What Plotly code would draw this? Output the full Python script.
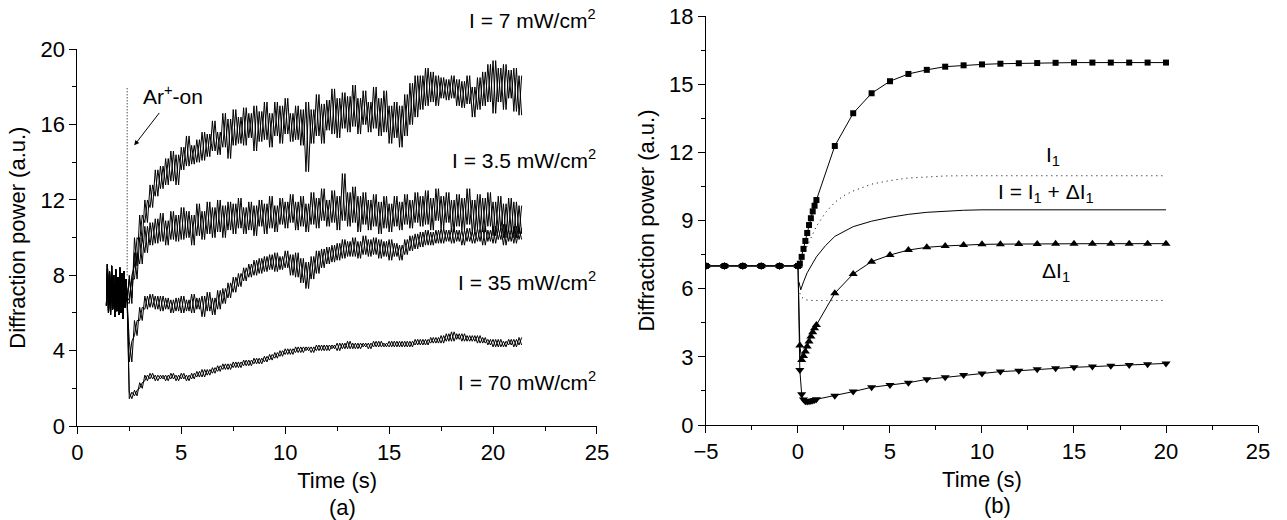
import plotly.graph_objects as go

FONT = "Liberation Sans, Arial, Helvetica, sans-serif"
FS = 22
FS_LABEL = 21

# ---------------- panel (a): measured traces ----------------
# shared segment before the Ar+ beam is switched on (alternating low/high samples)
PRE_T = [1.40, 1.45, 1.50, 1.55, 1.60, 1.65, 1.70, 1.75, 1.80, 1.85, 1.90,
         1.95, 2.00, 2.05, 2.10, 2.15, 2.20, 2.25, 2.30, 2.35, 2.40]
PRE_Y = [6.4, 8.6, 6.0, 8.2, 5.9, 8.5, 6.2, 8.0, 5.8, 8.3, 6.1,
         7.9, 5.9, 8.4, 6.0, 8.1, 5.7, 8.2, 6.3, 7.8, 6.6]

# after switch-on: sample times every 0.25 s from 2.5 s to 21.25 s
POST_STEP = 0.25
POST_T = [2.5 + POST_STEP * i for i in range(76)]

# I = 7 mW/cm2 : lower / upper edge of the noisy band
I7_LO = [6.5, 8.5, 9.8, 10.8,
         11.6, 12.2, 12.6, 12.8,
         13.0, 12.8, 13.6, 13.8,
         13.9, 14.0, 14.1, 14.3,
         14.6, 14.4, 14.8, 14.2,
         14.9, 15.0, 14.9, 15.3,
         14.6, 15.1, 15.2, 14.8,
         15.4, 15.0, 15.5, 15.1,
         15.2, 14.9, 13.5, 15.0,
         15.4, 15.0, 15.7, 15.5,
         15.3, 15.8, 15.6, 15.9,
         15.5, 16.0, 15.6, 15.8,
         15.4, 15.6, 15.0, 15.3,
         14.8, 15.4, 16.0, 16.4,
         16.8, 17.0, 17.2, 17.0,
         17.4, 17.3, 17.4, 17.0,
         16.9, 17.1, 16.4, 16.8,
         17.0, 17.2, 16.6, 17.2,
         16.8, 17.4, 16.7, 16.5]
I7_HI = [8.0, 10.0, 11.2, 12.0,
         12.8, 13.6, 13.8, 14.2,
         14.6, 14.4, 14.8, 15.4,
         14.9, 15.2, 15.6, 15.5,
         16.2, 15.6, 16.6, 16.3,
         16.8, 16.4, 16.9, 16.6,
         17.0, 16.7, 17.2, 16.6,
         17.2, 17.0, 17.4, 16.6,
         17.0, 16.8, 17.2, 16.8,
         17.6, 17.1, 17.3, 17.9,
         17.4, 17.7, 17.5, 18.1,
         17.4, 17.8, 17.2, 18.0,
         17.4, 17.8, 17.0, 17.2,
         17.0, 17.6, 18.2, 18.6,
         18.6, 19.0, 18.8, 18.6,
         18.5, 18.4, 18.6, 18.4,
         18.3, 18.6, 18.0, 18.5,
         18.8, 19.2, 19.4, 19.0,
         19.2, 18.9, 19.0, 18.6]

# I = 3.5 mW/cm2
I3_LO = [6.8, 7.8, 8.6, 9.2,
         9.6, 9.7, 9.8, 9.6,
         9.9, 9.8, 9.9, 10.0,
         9.6, 10.1, 9.9, 10.2,
         10.0, 10.3, 10.0, 10.4,
         10.2, 10.5, 10.2, 10.4,
         10.1, 10.6, 10.2, 10.5,
         10.3, 10.7, 10.5, 10.8,
         10.4, 10.6, 10.3, 10.7,
         10.5, 10.9, 10.6, 10.8,
         10.4, 10.9, 10.6, 10.8,
         10.3, 10.7, 10.4, 10.6,
         10.2, 10.5, 10.3, 10.6,
         10.4, 10.7, 10.5, 10.8,
         10.6, 10.7, 10.4, 10.9,
         10.5, 10.8, 10.3, 10.6,
         10.4, 10.7, 10.2, 10.5,
         10.3, 10.6, 10.1, 10.4,
         10.0, 10.3, 10.0, 10.2]
I3_HI = [7.8, 9.2, 10.0, 10.6,
         10.8, 11.0, 11.3, 10.9,
         11.4, 11.2, 11.6, 11.4,
         11.2, 11.8, 11.4, 11.9,
         11.6, 12.0, 11.7, 11.9,
         11.8, 12.1, 11.6, 11.9,
         11.7, 12.0, 11.8, 12.2,
         11.7, 12.1, 11.9, 12.3,
         11.9, 12.2, 11.8, 12.4,
         12.1, 12.6, 12.0, 12.5,
         12.2, 13.4, 12.4, 12.7,
         12.2, 12.4, 12.0, 12.3,
         11.9, 12.2, 11.8, 12.2,
         11.9, 12.3, 12.0, 12.4,
         12.2, 12.5, 12.1, 12.6,
         12.2, 12.4, 12.0, 12.3,
         12.1, 12.6, 12.0, 12.3,
         12.1, 12.4, 11.9, 12.2,
         11.8, 12.1, 11.9, 11.7]

# I = 35 mW/cm2
I35_LO = [3.4, 4.8, 5.6, 6.2,
          6.3, 6.2, 6.1, 6.2,
          6.0, 6.1, 6.0, 6.1,
          6.0, 6.2, 5.8, 6.1,
          5.9, 6.2, 6.5, 6.8,
          7.1, 7.4, 7.7, 7.9,
          8.0, 8.1, 8.2, 8.3,
          8.2, 8.3, 8.4, 8.0,
          7.9, 7.6, 7.3, 7.8,
          8.1, 8.4, 8.6, 8.7,
          8.8, 8.9, 9.0, 9.0,
          8.9, 9.1, 9.0, 9.1,
          8.9, 9.0, 8.8, 9.0,
          8.8, 9.1, 9.3, 9.4,
          9.5, 9.6, 9.6, 9.7,
          9.7, 9.8, 9.7, 9.8,
          9.6, 9.8, 9.7, 9.8,
          9.6, 9.8, 9.7, 9.9,
          9.6, 9.8, 9.7, 9.9]
I35_HI = [4.5, 5.6, 6.3, 6.9,
          7.0, 6.9, 6.9, 6.8,
          6.7, 6.8, 6.9, 6.7,
          7.0, 6.8, 6.9, 7.1,
          6.8, 7.2, 7.3, 7.6,
          7.9, 8.1, 8.4, 8.6,
          8.8, 8.9, 9.0, 9.1,
          9.2, 9.0, 9.3, 9.1,
          9.2, 8.9, 8.7, 9.0,
          9.3, 9.4, 9.5, 9.6,
          9.7, 9.9, 9.8, 10.0,
          9.8, 10.1, 9.9, 10.0,
          9.9, 9.8, 9.9, 9.7,
          9.6, 9.9, 10.1, 10.2,
          10.3, 10.4, 10.3, 10.4,
          10.5, 10.4, 10.5, 10.4,
          10.4, 10.5, 10.3, 10.5,
          10.6, 10.4, 10.6, 10.5,
          10.7, 10.4, 10.6, 10.5]

# I = 70 mW/cm2
I70_LO = [1.45, 1.6, 2.0, 2.4,
          2.5, 2.4, 2.5, 2.4,
          2.5, 2.4, 2.5, 2.4,
          2.5, 2.6, 2.6, 2.7,
          2.8, 2.9, 3.0, 3.0,
          3.1, 3.1, 3.2, 3.2,
          3.3, 3.3, 3.4, 3.5,
          3.6, 3.7, 3.8, 3.8,
          3.9, 3.9, 4.0, 3.9,
          4.0, 4.0, 4.0, 4.1,
          4.0, 4.1, 4.1, 4.1,
          4.1, 4.2, 4.1, 4.2,
          4.2, 4.2, 4.2, 4.2,
          4.2, 4.2, 4.2, 4.3,
          4.3, 4.3, 4.4, 4.4,
          4.4, 4.5, 4.5, 4.6,
          4.5, 4.5, 4.5, 4.4,
          4.4, 4.3, 4.2, 4.2,
          4.2, 4.3, 4.2, 4.3]
I70_HI = [1.8, 1.9, 2.3, 2.7,
          2.8, 2.7, 2.7, 2.7,
          2.8, 2.7, 2.8, 2.7,
          2.8, 2.9, 3.0, 3.0,
          3.1, 3.2, 3.3, 3.3,
          3.4, 3.4, 3.5, 3.5,
          3.6, 3.6, 3.7, 3.8,
          3.9, 4.0, 4.1, 4.1,
          4.2, 4.2, 4.2, 4.2,
          4.3, 4.3, 4.3, 4.3,
          4.4, 4.4, 4.5, 4.4,
          4.4, 4.4, 4.4, 4.5,
          4.5, 4.4, 4.5, 4.5,
          4.5, 4.5, 4.5, 4.6,
          4.6, 4.6, 4.7, 4.7,
          4.8, 4.9, 5.0, 4.9,
          4.9, 4.8, 4.8, 4.8,
          4.7, 4.6, 4.6, 4.6,
          4.5, 4.6, 4.6, 4.7]

AR_ON_T = [2.4, 2.4]
AR_ON_Y = [8.0, 18.0]

LABELS_A = ["I = 7 mW/cm<sup>2</sup>", "I = 3.5 mW/cm<sup>2</sup>",
            "I = 35 mW/cm<sup>2</sup>", "I = 70 mW/cm<sup>2</sup>"]
LABEL_A_Y = [21.6, 14.15, 7.7, 2.4]           # vertical centre (axis units)

# ---------------- panel (b): model curves ----------------
TB = [-5, -4, -3, -2, -1, 0,
      0.1, 0.2, 0.3, 0.4, 0.5, 0.6, 0.7, 0.8, 0.9, 1.0,
      2, 3, 4, 5, 6, 7, 8, 9, 10, 11, 12, 13, 14, 15, 16, 17, 18, 19, 20]
SQUARES = [7, 7, 7, 7, 7, 7,
           7.1, 7.4, 7.75, 8.1, 8.45, 8.8, 9.1, 9.4, 9.65, 9.9,
           12.28, 13.72, 14.6, 15.13, 15.45, 15.63, 15.77, 15.83, 15.87, 15.9,
           15.92, 15.93, 15.94, 15.95, 15.95, 15.95, 15.95, 15.95, 15.95]
UP_TRI = [7, 7, 7, 7, 7, 7,
          3.5, 2.86, 3.04, 3.23, 3.45, 3.67, 3.89, 4.08, 4.26, 4.4,
          5.8, 6.65, 7.19, 7.48, 7.7, 7.82, 7.88, 7.92, 7.95,
          7.96, 7.97, 7.97, 7.98, 7.98, 7.98, 7.98, 7.98, 7.98, 7.98]
DOWN_TRI = [7, 7, 7, 7, 7, 7,
            2.42, 1.35, 1.12, 1.05, 1.03, 1.04, 1.06, 1.08, 1.1, 1.13,
            1.29, 1.47, 1.66, 1.76, 1.86, 2.01, 2.1, 2.2, 2.27,
            2.35, 2.39, 2.45, 2.5, 2.54, 2.57, 2.61, 2.64, 2.67, 2.71]

T_I1 = [0.1, 0.2, 0.4, 0.6, 0.8, 1.0, 1.5, 2, 2.5, 3, 4, 5, 6, 7, 8, 9, 10, 20]
I1 = [7.0, 7.2, 7.7, 8.05, 8.4, 8.75, 9.35, 9.8, 10.1, 10.3, 10.6, 10.76,
      10.87, 10.93, 10.96, 10.97, 10.97, 10.97]
T_I = [0.05, 0.15, 0.3, 0.5, 0.75, 1.0, 1.5, 2, 3, 4, 5, 6, 7, 8, 9, 10, 20]
I_SUM = [6.3, 5.95, 6.3, 6.7, 7.05, 7.4, 7.9, 8.3, 8.73, 8.97, 9.14, 9.27,
         9.36, 9.42, 9.45, 9.47, 9.47]
T_DI = [0.1, 0.2, 0.4, 0.6, 20]
DI1 = [5.8, 5.62, 5.52, 5.48, 5.48]

LABELS_B = ["I<sub>1</sub>", "I = I<sub>1</sub> + ΔI<sub>1</sub>", "ΔI<sub>1</sub>"]
LABEL_B_X = [13.85, 13.5, 14.0]
LABEL_B_Y = [11.85, 10.2, 6.75]

# layout geometry (paper fractions)
XA_DOM = [0.06006, 0.46387]
YA_DOM = [0.18077, 0.90519]
XB_DOM = [0.54856, 0.97747]
YB_DOM = [0.18269, 0.96923]
LABEL_A_RIGHT = 0.4650      # right edge of the panel (a) intensity labels


def noisy(lo, hi, flip=False):
    """Polyline through the read low/high band edges (crossed pairs give a dense band)."""
    xs, ys = list(PRE_T), list(PRE_Y)
    for t, l, h in zip(POST_T, lo, hi):
        a, b = (h, l) if flip else (l, h)
        xs += [t, t + POST_STEP / 2]
        ys += [a, b]
    return xs, ys


fig = go.Figure()
line_k = dict(color="black", width=1)

for lo, hi, name in [(I7_LO, I7_HI, "7 mW/cm²"), (I3_LO, I3_HI, "3.5 mW/cm²"),
                     (I35_LO, I35_HI, "35 mW/cm²"), (I70_LO, I70_HI, "70 mW/cm²")]:
    for flip in (False, True):
        xs, ys = noisy(lo, hi, flip)
        fig.add_trace(go.Scatter(x=xs, y=ys, mode="lines", line=line_k, name=name,
                                 xaxis="x", yaxis="y"))

fig.add_trace(go.Scatter(x=AR_ON_T, y=AR_ON_Y, mode="lines",
                         line=dict(color="black", width=1, dash="1px,2px"),
                         xaxis="x", yaxis="y", name="Ar+ on"))

# panel (b)
fig.add_trace(go.Scatter(x=T_I1, y=I1, mode="lines",
                         line=dict(color="black", width=1, dash="1px,4px"),
                         xaxis="x2", yaxis="y2", name="I1"))
fig.add_trace(go.Scatter(x=T_I, y=I_SUM, mode="lines", line=line_k,
                         xaxis="x2", yaxis="y2", name="I"))
fig.add_trace(go.Scatter(x=T_DI, y=DI1, mode="lines",
                         line=dict(color="black", width=1, dash="1px,4px"),
                         xaxis="x2", yaxis="y2", name="dI1"))
for vals, sym, sz in [(SQUARES, "square", 6), (UP_TRI, "triangle-up", 8),
                      (DOWN_TRI, "triangle-down", 8)]:
    fig.add_trace(go.Scatter(x=TB, y=vals, mode="lines+markers", line=line_k,
                             marker=dict(symbol=sym, size=sz, color="black",
                                         line=dict(width=0)),
                             xaxis="x2", yaxis="y2"))

tickfont = dict(family=FONT, size=FS, color="black")
labelfont = dict(family=FONT, size=FS_LABEL, color="black")
common = dict(showline=True, linecolor="black", linewidth=1, ticks="outside",
              ticklen=7, tickcolor="black", tickwidth=1, showgrid=False,
              zeroline=False, mirror=False, tickfont=tickfont, automargin=False)

fig.update_layout(
    width=1287, height=520,
    margin=dict(l=0, r=0, t=0, b=0),
    paper_bgcolor="white", plot_bgcolor="white",
    showlegend=False,
    font=dict(family=FONT, size=FS, color="black"),
    xaxis=dict(domain=XA_DOM, range=[0, 25], dtick=5, tick0=0,
               minor=dict(ticks="outside", ticklen=4, dtick=2.5, tickcolor="black"),
               title=dict(text="Time (s)", font=tickfont, standoff=8),
               anchor="y", **common),
    yaxis=dict(domain=YA_DOM, range=[0, 20], dtick=4, tick0=0,
               minor=dict(ticks="outside", ticklen=4, dtick=2, tickcolor="black"),
               title=dict(text="Diffraction power (a.u.)", font=tickfont, standoff=8),
               anchor="x", **common),
    xaxis2=dict(domain=XB_DOM, range=[-5, 25], dtick=5, tick0=0,
                minor=dict(ticks="outside", ticklen=4, dtick=2.5, tickcolor="black"),
                title=dict(text="Time (s)", font=tickfont, standoff=8),
                anchor="y2", **common),
    yaxis2=dict(domain=YB_DOM, range=[0, 18], dtick=3, tick0=0,
                minor=dict(ticks="outside", ticklen=4, dtick=1.5, tickcolor="black"),
                title=dict(text="Diffraction power (a.u.)", font=tickfont, standoff=8),
                anchor="x2", **common),
)

annos = []
for txt, y in zip(LABELS_A, LABEL_A_Y):
    # vertical position given in axis units, converted to paper fraction so a label
    # above the axis range stays visible
    y0, y1 = YA_DOM
    annos.append(dict(text=txt, x=LABEL_A_RIGHT, y=y0 + (y1 - y0) * y / 20.0,
                      xref="paper", yref="paper", xanchor="right", yanchor="middle",
                      showarrow=False, font=labelfont))
annos.append(dict(text="Ar<sup>+</sup>-on", x=2.74, y=14.9, ax=4.6, ay=17.56,
                  xref="x", yref="y", axref="x", ayref="y", showarrow=True,
                  arrowhead=2, arrowsize=1, arrowwidth=1, arrowcolor="black",
                  standoff=0, startstandoff=4, font=labelfont))
for txt, x, y in zip(LABELS_B, LABEL_B_X, LABEL_B_Y):
    annos.append(dict(text=txt, x=x, y=y, xref="x2", yref="y2", xanchor="center",
                      yanchor="middle", showarrow=False, font=labelfont))
annos.append(dict(text="(a)", x=342 / 1287, y=1 - 507 / 520, xref="paper", yref="paper",
                  xanchor="center", yanchor="middle", showarrow=False, font=tickfont))
annos.append(dict(text="(b)", x=997 / 1287, y=1 - 505 / 520, xref="paper", yref="paper",
                  xanchor="center", yanchor="middle", showarrow=False, font=tickfont))
fig.update_layout(annotations=annos)

fig.write_html("out.html")
